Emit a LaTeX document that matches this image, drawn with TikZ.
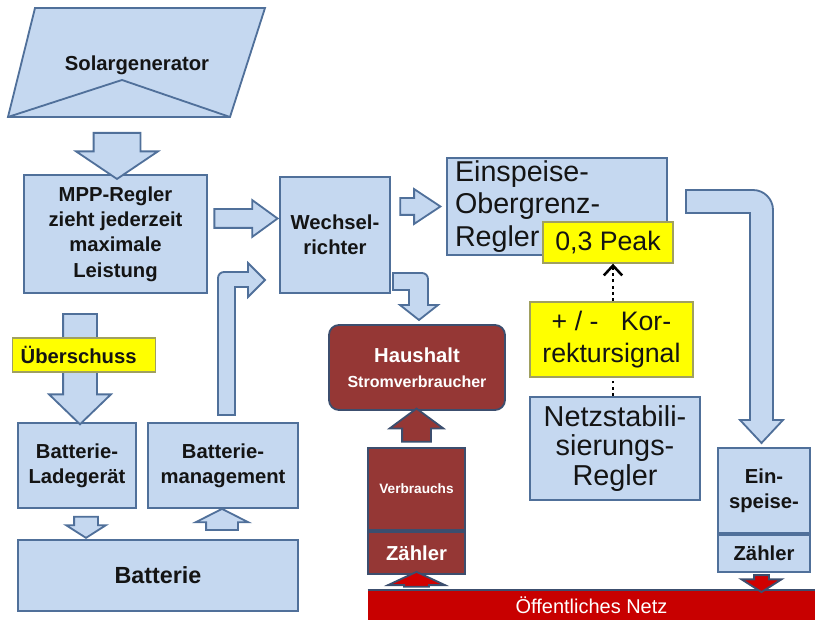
\documentclass[tikz,border=0pt]{standalone}
\usepackage{fontspec}
\setmainfont{Liberation Sans}
\usetikzlibrary{positioning,calc,shapes.arrows,arrows.meta}

\definecolor{boxfill}{HTML}{C5D8F0}
\definecolor{boxline}{HTML}{50709A}
\definecolor{hausred}{HTML}{953735}
\definecolor{netzred}{HTML}{C80000}
\definecolor{arrred}{HTML}{D00000}
\definecolor{darkline}{HTML}{3C4E6E}
\definecolor{signal}{HTML}{FFFF00}
\definecolor{signalline}{HTML}{A0A060}
\definecolor{txt}{HTML}{141414}

\newcommand{\fsbold}{\fontsize{14.4pt}{18pt}\selectfont\bfseries}
\newcommand{\fsbatt}{\fontsize{16.6pt}{20pt}\selectfont\bfseries}
\newcommand{\fsstrom}{\fontsize{11.4pt}{14pt}\selectfont\bfseries}
\newcommand{\fsverb}{\fontsize{9.7pt}{12pt}\selectfont\bfseries}
\newcommand{\fsregler}{\fontsize{20.4pt}{23.1pt}\selectfont}
\newcommand{\fsnetzst}{\fontsize{20.5pt}{21.3pt}\selectfont}
\newcommand{\fssignal}{\fontsize{19pt}{22.8pt}\selectfont}
\newcommand{\fsnetz}{\fontsize{14.2pt}{17pt}\selectfont}

\tikzset{
  box/.style={draw=boxline, fill=boxfill, line width=1.3pt, inner sep=0pt,
    align=center, text=txt, font=\fsbold},
  boxsize/.style 2 args={minimum width={#1*0.025cm}, minimum height={#2*0.025cm}},
  signalbox/.style={draw=signalline, fill=signal, line width=1pt, inner sep=0pt,
    align=center, text=txt, font=\fssignal},
  consumer/.style={draw=darkline, fill=hausred, line width=1.3pt, inner sep=0pt,
    align=center, text=white, font=\fsbold},
  netzbar/.style={fill=netzred, inner sep=0pt, text=white, font=\fsnetz},
  barrow/.style={single arrow, draw=boxline, fill=boxfill, line width=1.3pt,
    inner xsep=0pt},
  arrowgeom/.style n args={3}{inner ysep={#1*0.0125cm}, minimum width={#2*0.025cm},
    single arrow head extend={(#2-#1)*0.0125cm}, single arrow tip angle=#3},
  bentarrow/.style={draw=boxline, fill=boxfill, line width=1.3pt},
  sigdots/.style={draw=black, line width=2pt, dash pattern=on 2pt off 2.5pt}
}

% straight block arrow from one named point to another
\newcommand{\blockarr}[4][]{%
  \path let \p1=($(#3)-(#2)$), \n1={veclen(\x1,\y1)} in (#2) -- (#3)
    node[midway, sloped, allow upside down, barrow, minimum height=\n1, #4, #1] {};}

\begin{document}
\begin{tikzpicture}[x=0.025cm, y=-0.025cm]
  \useasboundingbox (0,0) rectangle (815,622);

  % Solargenerator
  \draw[box] (35,8) -- (265,8) -- (230,117) -- (8,117) -- cycle;
  \draw[boxline, line width=1.3pt] (8,117) -- (122,80) -- (230,117);
  \node[font=\fsbold, text=txt] (solar) at (137,65) {Solargenerator};
  \coordinate (solarfoot) at (117,117);

  % boxes
  \node[box, boxsize={183}{118}] (mpp) at (115.5,234) {MPP-Regler\\zieht jederzeit\\maximale\\Leistung};
  \node[box, boxsize={110}{116}] (wr) at (335,235) {Wechsel-\\richter};
  \node[box, boxsize={118}{85}] (lade) at (77,465.5) {Batterie-\\Ladegerät};
  \node[box, boxsize={150}{85}] (bmgmt) at (223,465.5) {Batterie-\\management};
  \node[box, boxsize={280}{71}, font=\fsbatt] (batt) at (158,575.5) {Batterie};
  \node[box, boxsize={220}{97}, font=\fsregler, align=left, text width={204*0.025cm}] (regler) at (557,206.5) {Einspeise-\\Obergrenz-\\Regler};
  \node[signalbox, boxsize={130}{41}] (peak) at (608,242.5) {0,3 Peak};
  \node[signalbox, boxsize={163}{75}] (korr) at (611.5,339.5) {+ / -~~~Kor-\\rektursignal};
  \node[box, boxsize={170}{103}, font=\fsnetzst] (netzst) at (615,448.5) {Netzstabili-\\sierungs-\\Regler};
  \node[consumer, boxsize={176}{85}, rounded corners=0.25cm] (haus) at (417,367.5) {Haushalt\\{\fsstrom Stromverbraucher}};
  \node[consumer, boxsize={97}{82}, font=\fsverb] (vzo) at (416.5,489) {Verbrauchs};
  \node[consumer, boxsize={97}{42}, below=0pt of vzo] (vzu) {Zähler};
  \node[box, boxsize={92}{85}] (ezo) at (764,490.5) {Ein-\\speise-};
  \node[box, boxsize={92}{37}, below=0pt of ezo] (ezu) {Zähler};
  \node[netzbar, boxsize={447}{30}] (netz) at (591.5,605) {Öffentliches Netz};
  \draw[darkline, line width=1.3pt] (netz.north west) -- (netz.north east);

  % straight arrows
  \coordinate (a1s) at ($(solarfoot)+(0,8)$);
  \coordinate (a1e) at ($(mpp.north)+(1.5,-3)$);
  \blockarr{a1s}{a1e}{arrowgeom={45}{80}{112}}
  \coordinate (a2s) at ($(mpp.east)+(0,-15.5)$);
  \coordinate (a2e) at ($(wr.west)+(-8,-16.5)$);
  \blockarr{a2s}{a2e}{arrowgeom={17}{35}{72}}
  \coordinate (a3s) at ($(wr.east)+(3,-28.5)$);
  \coordinate (a3e) at ($(regler.west)+(-12,0)$);
  \blockarr{a3s}{a3e}{arrowgeom={15}{33}{67}}
  \coordinate (a4s) at ($(mpp.south)+(-35.5,12)$);
  \coordinate (a4e) at ($(lade.north)+(3,-6)$);
  \blockarr{a4s}{a4e}{arrowgeom={32}{60}{92}}
  \coordinate (a5s) at ($(lade.south)+(9,4)$);
  \coordinate (a5e) at ($(batt.north)+(-72,-5)$);
  \blockarr{a5s}{a5e}{arrowgeom={22}{38}{115}}
  \coordinate (a6s) at ($(batt.north)+(64,-5)$);
  \coordinate (a6e) at ($(bmgmt.south)+(-1,4)$);
  \blockarr{a6s}{a6e}{arrowgeom={30}{51}{126}}
  \coordinate (a7e) at ($(haus.south)+(-0.5,3)$);
  \blockarr[draw=darkline, fill=hausred]{vzo.north}{a7e}{arrowgeom={27}{52}{107}}
  \coordinate (a8s) at (netz.north -| vzu.south);
  \blockarr[draw=darkline, fill=arrred]{a8s}{vzu.south}{arrowgeom={23}{55}{130}}
  \coordinate (a9s) at ($(ezu.south)+(-2.5,0)$);
  \coordinate (a9e) at (netz.north -| a9s);
  \blockarr[draw=darkline, fill=arrred]{a9s}{a9e}{arrowgeom={13}{38}{115}}

  % Überschuss label over the arrow
  \node[signalbox, font=\fsbold, anchor=west, align=left, text width={127*0.025cm},
    inner xsep={8*0.025cm}, minimum height={34*0.025cm}] (ueber) at (12,355) {Überschuss};

  % bent arrows
  \draw[bentarrow] (218,415) [rounded corners=0.15cm] -- (218,272) [sharp corners] -- (248,272)
    -- (248,263) -- (265,280) -- (248,297) -- (248,287) -- (235,287) -- (235,415) -- cycle;
  \draw[bentarrow] (393,273) [rounded corners=0.15cm] -- (428,273) [sharp corners] -- (428,305)
    -- (438,305) -- (419,320) -- (400,305) -- (409,305) -- (409,290) -- (393,290) -- cycle;
  \draw[bentarrow] (686,190) [rounded corners=0.5cm] -- (773,190) [sharp corners] -- (773,420)
    -- (783,420) -- (761.5,443) -- (740,420) -- (750,420) -- (750,213) -- (686,213) -- cycle;

  % correction signal
  \coordinate (sigx) at (613,0);
  \draw[sigdots] (netzst.north -| sigx) -- (korr.south -| sigx);
  \draw[sigdots, -{Straight Barb[length=7pt, width=13pt, line width=1.8pt]}]
    (korr.north -| sigx) -- (peak.south -| sigx);
\end{tikzpicture}
\end{document}
